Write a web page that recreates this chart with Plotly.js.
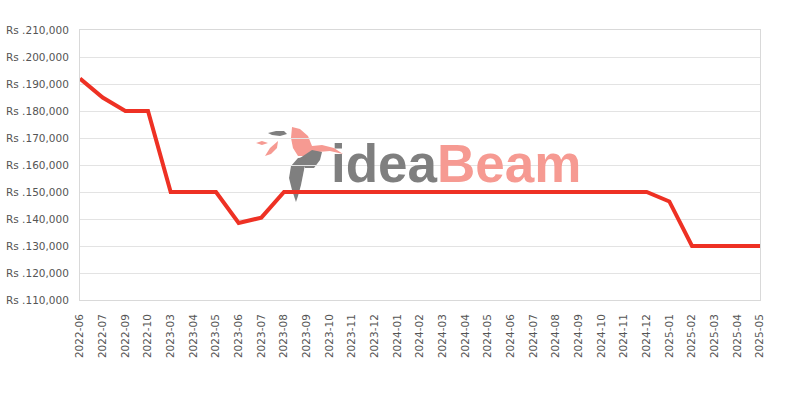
<!DOCTYPE html>
<html>
<head>
<meta charset="utf-8">
<script src="https://cdn.plot.ly/plotly-3.0.1.min.js"></script>
<style>html,body{margin:0;padding:0;background:#fff;}#chart{width:800px;height:400px;}</style>
</head>
<body>
<div id="chart"></div>
<script>
const months = ["2022-06","2022-07","2022-09","2022-10","2023-03","2023-04","2023-05","2023-06","2023-07","2023-08","2023-09","2023-10","2023-11","2023-12","2024-01","2024-02","2024-03","2024-04","2024-05","2024-06","2024-07","2024-08","2024-09","2024-10","2024-11","2024-12","2025-01","2025-02","2025-03","2025-04","2025-05"];
const prices = [192000,185000,180000,180000,150000,150000,150000,138500,140500,150000,150000,150000,150000,150000,150000,150000,150000,150000,150000,150000,150000,150000,150000,150000,150000,150000,146500,130000,130000,130000,130000];
const yTicks = [110000,120000,130000,140000,150000,160000,170000,180000,190000,200000,210000];
const yTickText = yTicks.map(v => 'Rs .' + v.toLocaleString('en-US'));

// decorative watermark logo (pixel outline -> paper coords)
const L = 80, T = 30, W = 680, H = 270;
function toPaper(pts) {
  return 'M' + pts.map(p => ((p[0] - L) / W).toFixed(4) + ',' + ((T + H - p[1]) / H).toFixed(4)).join(' L') + ' Z';
}
const birdHead = [[292,127],[300,129],[308,136],[312,146],[322,145],[334,148],[343,154],[330,151],[318,152],[308,156],[298,156],[293,148],[291,138]];
const birdWing = [[268,133],[276,131],[284,131],[287,134],[280,136],[272,135]];
const leaf1 = [[256,143],[262,141],[268,143],[262,145]];
const leaf2 = [[265,156],[270,148],[278,141],[277,148],[271,154]];
const body = [[300,158],[312,150],[322,152],[320,160],[314,168],[305,168]];
const feather = [[296,202],[292,190],[289,178],[291,166],[298,158],[306,157],[304,170],[301,185],[298,196]];

const logoShapes = [
  {path: birdHead, c: '#f69a92'}, {path: birdWing, c: '#7f7f7f'}, {path: leaf1, c: '#f69a92'},
  {path: leaf2, c: '#f69a92'}, {path: body, c: '#7f7f7f'}, {path: feather, c: '#7f7f7f'}
].map(s => ({type: 'path', xref: 'paper', yref: 'paper', path: toPaper(s.path), fillcolor: s.c, line: {width: 0}, layer: 'below'}));

const trace = {
  x: months, y: prices, type: 'scatter', mode: 'lines',
  line: {color: '#ee3124', width: 4},
  hoverinfo: 'x+y'
};
const layout = {
  width: 800, height: 400,
  margin: {l: 80, r: 40, t: 30, b: 100},
  paper_bgcolor: '#ffffff', plot_bgcolor: '#ffffff',
  showlegend: false,
  font: {family: 'DejaVu Sans, sans-serif', size: 10.5, color: '#555555'},
  xaxis: {
    type: 'category', range: [0, months.length - 1],
    tickangle: -90, showgrid: false, showline: true, linecolor: '#d9d9d9', linewidth: 1,
    mirror: true, ticks: '', tickfont: {size: 10.5, color: '#555555'}, zeroline: false,
    ticklabelstandoff: 9
  },
  yaxis: {
    range: [110000, 210000], tickvals: yTicks, ticktext: yTickText,
    showgrid: true, gridcolor: '#e3e3e3', gridwidth: 1, showline: true, linecolor: '#d9d9d9',
    mirror: true, ticks: '', zeroline: false, tickfont: {size: 10.5, color: '#555555'},
    ticklabelstandoff: 8
  },
  shapes: logoShapes,
  annotations: [
    {xref: 'paper', yref: 'paper', x: (329 - L) / W, y: (T + H - 195) / H, xanchor: 'left', yanchor: 'bottom',
     text: '<span style="color:#7f7f7f">idea</span><span style="color:#f69a92">Beam</span>', showarrow: false,
     font: {family: 'Liberation Sans, Arial, sans-serif', size: 53, weight: 'bold', color: '#7f7f7f'}}
  ]
};
Plotly.newPlot('chart', [trace], layout, {displayModeBar: false, staticPlot: true});
</script>
</body>
</html>
